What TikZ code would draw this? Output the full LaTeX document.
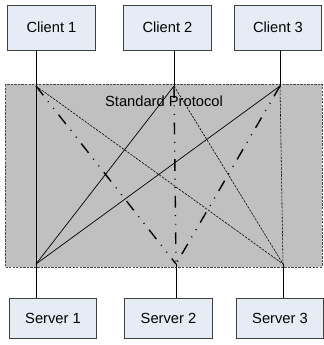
\documentclass[tikz,border=0pt]{standalone}
\usepackage{fontspec}
\setmainfont{Liberation Sans}
\usetikzlibrary{positioning}
\definecolor{boxfill}{RGB}{230,236,246}
\definecolor{busfill}{RGB}{192,192,192}

\begin{document}
\begin{tikzpicture}[x=0.85pt,y=-0.85pt,
  unit/.style={draw=black!75,fill=boxfill,line width=0.6pt,minimum width=74.5pt,
    font=\fontsize{12.5}{14}\selectfont},
  solidlink/.style={line width=0.6pt},
  dashdotlink/.style={line width=1.2pt,dash pattern=on 10pt off 6.5pt on 0.8pt off 6.5pt on 0.8pt off 6.5pt},
  finelink/.style={line width=0.5pt,dash pattern=on 2pt off 1pt}]
\useasboundingbox (0,0) rectangle (323,345);
\def\ytop{86}
\def\ybot{264}
\coordinate (p1) at (36,\ytop);
\coordinate (p2) at (174,\ytop);
\coordinate (p3) at (280,\ytop);
\coordinate (q1) at (36,\ybot);
\coordinate (q2) at (176,\ybot);
\coordinate (q3) at (283,\ybot);

% protocol layer
\draw[fill=busfill,draw=black!70,line width=0.5pt,dash pattern=on 2pt off 1pt] (5,84) rectangle (322,267);
\node[font=\fontsize{12.5}{14}\selectfont] (proto) at (164,101) {Standard Protocol};

% clients and servers
\node[unit,minimum height=38pt] (c1) at (51.5,27.5) {Client 1};
\node[unit,minimum height=38pt] (c2) at (167.5,27.5) {Client 2};
\node[unit,minimum height=38pt] (c3) at (278,27.5) {Client 3};
\node[unit,minimum height=34pt] (s1) at (53,318) {Server 1};
\node[unit,minimum height=34pt] (s2) at (168.5,318) {Server 2};
\node[unit,minimum height=34pt] (s3) at (280,318) {Server 3};

\draw[solidlink] (c1.south -| p1) -- (p1);
\draw[solidlink] (c2.south -| p2) -- (p2);
\draw[solidlink] (c3.south -| p3) -- (p3);
\draw[solidlink] (s1.north -| q1) -- (q1);
\draw[solidlink] (s2.north -| q2) -- (q2);
\draw[solidlink] (s3.north -| q3) -- (q3);

% links across the protocol
\foreach \c in {1,2,3} {
  \draw[solidlink] (p\c) -- (q1);
  \draw[dashdotlink] (p\c) -- (q2);
  \draw[finelink] (p\c) -- (q3);
}
\end{tikzpicture}
\end{document}
